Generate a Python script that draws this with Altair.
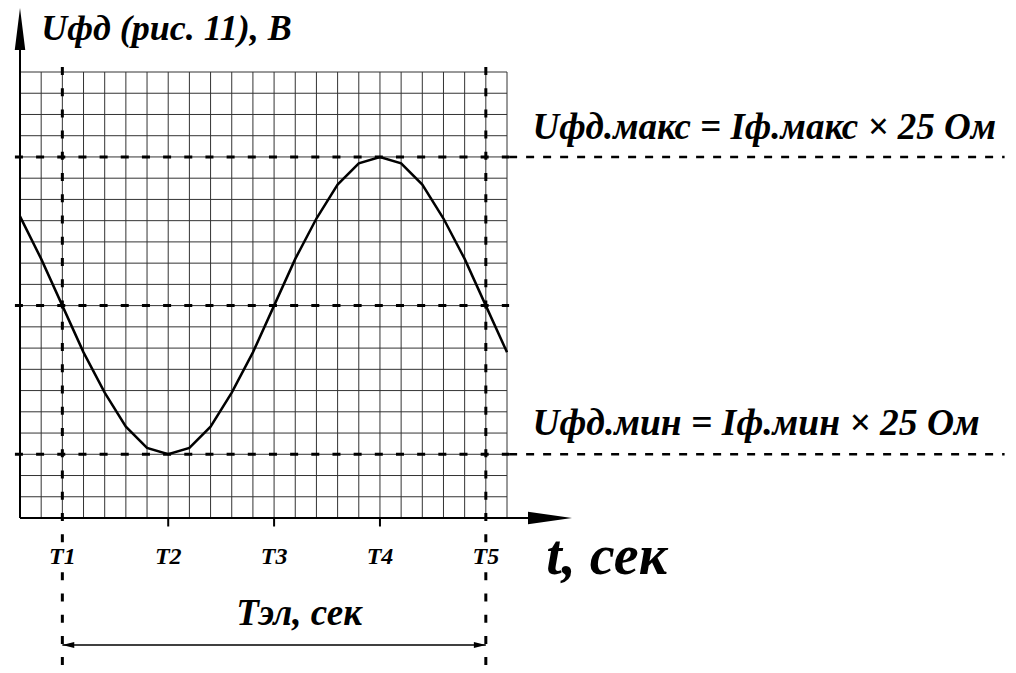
import altair as alt
import pandas as pd

# ---- data (grid units) ----
grid_cols = list(range(0, 24))          # vertical grid lines
grid_rows = list(range(0, 22))          # horizontal grid lines
t_values = list(range(0, 24))           # curve sample positions (grid columns)
u_values = [14.2, 12.2, 10.0, 7.8, 5.9, 4.3, 3.3, 3.0, 3.3, 4.3, 5.9, 7.8,
            10.0, 12.2, 14.1, 15.7, 16.7, 17.0, 16.7, 15.7, 14.1, 12.2, 10.0, 7.8]
t_labels = ["T1", "T2", "T3", "T4", "T5"]
t_positions = [2, 7, 12, 17, 22]
u_max, u_mid, u_min = 17, 10, 3

y_title = "Uфд (рис. 11), В"
x_title = "t, сек"
period_label = "Тэл, сек"
max_label = "Uфд.макс = Iф.макс × 25 Ом"
min_label = "Uфд.мин = Iф.мин × 25 Ом"

X_MAX, Y_MAX = grid_cols[-1], grid_rows[-1]

xs = alt.Scale(domain=[0, X_MAX], nice=False, zero=False)
ys = alt.Scale(domain=[0, Y_MAX], nice=False, zero=False)


def X(f):
    return alt.X(f, type="quantitative", scale=xs, axis=None)


def X2(f):
    return alt.X2(f)


def Y(f):
    return alt.Y(f, type="quantitative", scale=ys, axis=None)


FONT = "Liberation Serif"

# grid
vgrid = pd.DataFrame({"x": grid_cols, "y": 0, "y2": Y_MAX})
hgrid = pd.DataFrame({"y": grid_rows, "x": 0, "x2": X_MAX})
grid_v = alt.Chart(vgrid).mark_rule(color="#333", strokeWidth=1).encode(
    x=X("x"), y=Y("y"), y2=alt.Y2("y2"))
grid_h = alt.Chart(hgrid).mark_rule(color="#333", strokeWidth=1).encode(
    y=Y("y"), x=X("x"), x2=X2("x2"))

# axes lines
axes_df = pd.DataFrame({"x": [0, 0], "y": [0, 0], "x2": [0, 24.1], "y2": [22.05, 0]})
axes = alt.Chart(axes_df).mark_rule(color="black", strokeWidth=2).encode(
    x=X("x"), y=Y("y"), x2=X2("x2"), y2=alt.Y2("y2"))

# arrow heads of the axes
yarrow = alt.Chart(pd.DataFrame({"x": [0], "y": [23.02]})).mark_point(
    shape="M0,-1L0.25,1L-0.25,1Z", filled=True, size=1764, color="black",
    opacity=1, strokeWidth=0).encode(x=X("x"), y=Y("y"))
xarrow = alt.Chart(pd.DataFrame({"x": [25.03], "y": [0]})).mark_point(
    shape="M1,0L-1,-0.28L-1,0.28Z", filled=True, size=1936, color="black",
    opacity=1, strokeWidth=0).encode(x=X("x"), y=Y("y"))

# small ticks under x axis
ticks = alt.Chart(pd.DataFrame({"x": t_positions[1:4], "y": 0, "y2": -0.4})).mark_rule(
    color="black", strokeWidth=2).encode(x=X("x"), y=Y("y"), y2=alt.Y2("y2"))

# horizontal dashed levels
h_in = pd.DataFrame({"y": [u_max, u_mid, u_min], "x": -0.24, "x2": X_MAX + 0.1})
h_out = pd.DataFrame({"y": [u_max, u_min], "x": X_MAX + 0.1, "x2": 46.5})
dash_in = alt.Chart(h_in).mark_rule(color="black", strokeWidth=3, strokeDash=[8, 13.17]).encode(
    y=Y("y"), x=X("x"), x2=X2("x2"))
dash_out = alt.Chart(h_out).mark_rule(color="black", strokeWidth=2.5, strokeDash=[8, 9]).encode(
    y=Y("y"), x=X("x"), x2=X2("x2"))

# vertical dashed lines at T1 and T5 (broken around the T labels)
v_x = [t_positions[0], t_positions[-1]]
v_df = pd.DataFrame({"x": v_x * 2, "y": [21.24, 21.24, -2.55, -2.55],
                     "y2": [-1.2, -1.2, -7.4, -7.4]})
dash_v = alt.Chart(v_df).mark_rule(color="black", strokeWidth=3, strokeDash=[8, 13.24]).encode(
    x=X("x"), y=Y("y"), y2=alt.Y2("y2"))

# curve
curve = alt.Chart(pd.DataFrame({"t": t_values, "u": u_values})).mark_line(
    color="black", strokeWidth=2.5).encode(x=X("t"), y=Y("u"))

# period double arrow
per_y = -5.98
per_line = alt.Chart(pd.DataFrame({"x": [t_positions[0]], "x2": [t_positions[-1]], "y": [per_y]})).mark_rule(
    color="black", strokeWidth=1.5).encode(x=X("x"), x2=X2("x2"), y=Y("y"))
per_left = alt.Chart(pd.DataFrame({"x": [t_positions[0] + 0.28], "y": [per_y]})).mark_point(
    shape="M-1,0L1,-0.5L1,0.5Z", filled=True, size=144, color="black", opacity=1,
    strokeWidth=0).encode(x=X("x"), y=Y("y"))
per_right = alt.Chart(pd.DataFrame({"x": [t_positions[-1] - 0.28], "y": [per_y]})).mark_point(
    shape="M1,0L-1,-0.5L-1,0.5Z", filled=True, size=144, color="black", opacity=1,
    strokeWidth=0).encode(x=X("x"), y=Y("y"))

# texts
tlab = alt.Chart(pd.DataFrame({"x": t_positions, "y": -2.17, "t": t_labels})).mark_text(
    font=FONT, fontStyle="italic", fontWeight="bold", fontSize=24, color="black",
    baseline="alphabetic", align="center").encode(x=X("x"), y=Y("y"), text="t:N")


def label(txt, x, y, size, align="left"):
    return alt.Chart(pd.DataFrame({"x": [x], "y": [y], "t": [txt]})).mark_text(
        font=FONT, fontStyle="italic", fontWeight="bold", fontSize=size, color="black",
        baseline="alphabetic", align=align).encode(x=X("x"), y=Y("y"), text="t:N")


title_t = label(y_title, 1.0, 22.5, 36)
xtitle_t = label(x_title, 24.85, -2.64, 56)
per_t = label(period_label, 13.18, -5.04, 37, align="center")
max_t = label(max_label, 24.2, 17.85, 37)
min_t = label(min_label, 24.2, 3.9, 37.5)

chart = alt.layer(
    grid_v, grid_h, dash_in, dash_out, dash_v, axes, ticks, yarrow, xarrow, curve,
    per_line, per_left, per_right, tlab, title_t, xtitle_t, per_t, max_t, min_t
).properties(
    width=487, height=446,
    padding={"left": 12, "top": 64, "right": 501, "bottom": 147},
    autosize=alt.AutoSizeParams(type="none"),
    background="white",
).configure_view(stroke=None)

chart.save("out.html", embed_options={"renderer": "svg", "actions": False})
